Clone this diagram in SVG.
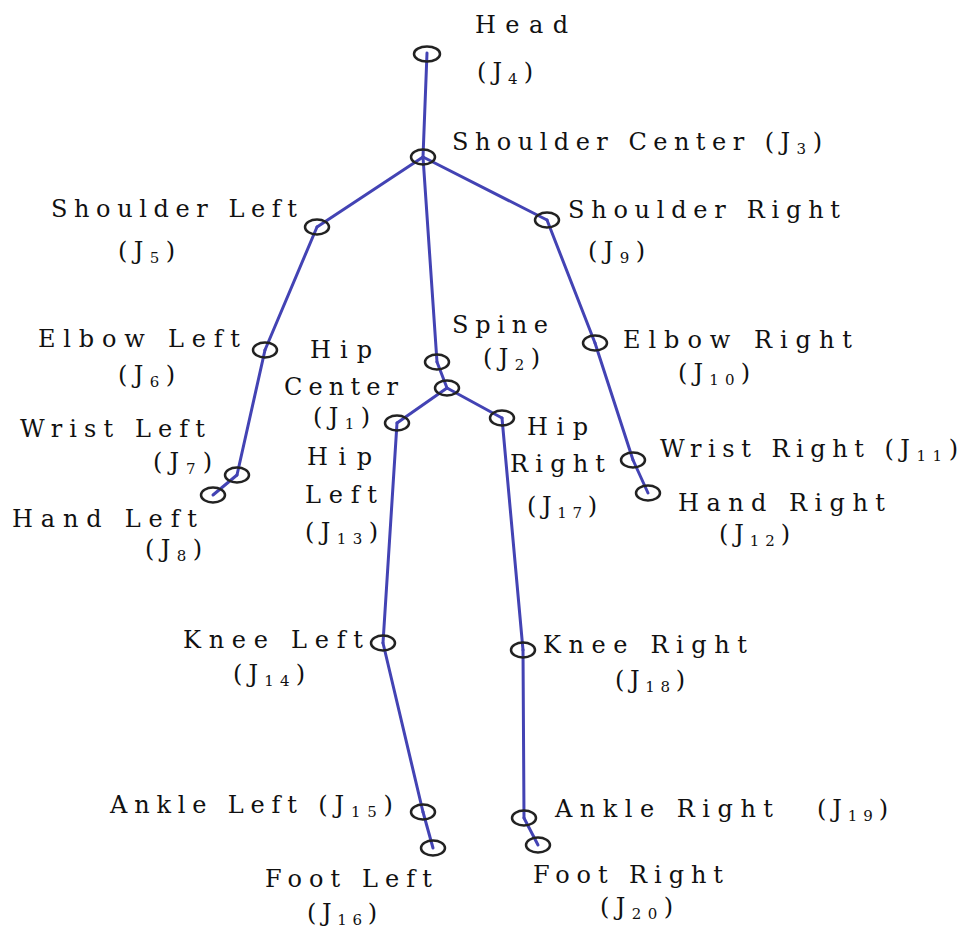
<svg xmlns="http://www.w3.org/2000/svg" width="966" height="930" viewBox="0 0 966 930">
<style>
.bone{stroke:#4343b4;stroke-width:3;stroke-linecap:round;fill:none}
.joint{fill:none;stroke:#222;stroke-width:2.5}
text{font-family:'DejaVu Serif','Liberation Serif',serif;font-size:24px;fill:#111}
.s{font-size:15px}
</style>
<rect width="966" height="930" fill="#ffffff"/>
<g id="connectors">
<line class="bone" x1="427" y1="53" x2="423" y2="157"/>
<line class="bone" x1="423" y1="157" x2="317" y2="227"/>
<line class="bone" x1="423" y1="157" x2="547" y2="220"/>
<line class="bone" x1="423" y1="157" x2="437" y2="362"/>
<line class="bone" x1="317" y1="227" x2="265" y2="350"/>
<line class="bone" x1="265" y1="350" x2="237" y2="475"/>
<line class="bone" x1="237" y1="475" x2="213" y2="495"/>
<line class="bone" x1="547" y1="220" x2="595" y2="343"/>
<line class="bone" x1="595" y1="343" x2="633" y2="460"/>
<line class="bone" x1="633" y1="460" x2="648" y2="493"/>
<line class="bone" x1="437" y1="362" x2="447" y2="388"/>
<line class="bone" x1="447" y1="388" x2="397" y2="423"/>
<line class="bone" x1="447" y1="388" x2="502" y2="418"/>
<line class="bone" x1="397" y1="423" x2="383" y2="643"/>
<line class="bone" x1="383" y1="643" x2="423" y2="812"/>
<line class="bone" x1="423" y1="812" x2="433" y2="848"/>
<line class="bone" x1="502" y1="418" x2="523" y2="650"/>
<line class="bone" x1="523" y1="650" x2="524" y2="818"/>
<line class="bone" x1="524" y1="818" x2="538" y2="845"/>
</g>
<g id="head"><ellipse class="joint" cx="427" cy="54" rx="13" ry="7.5"/>
<text x="475" y="33" textLength="93" lengthAdjust="spacing">Head</text>
<text x="477" y="80" textLength="56" lengthAdjust="spacing">(J<tspan class="s" dy="4">4</tspan><tspan dy="-4">)</tspan></text></g>
<g id="shoulder-center"><ellipse class="joint" cx="423" cy="157" rx="12" ry="7.5"/>
<text x="452" y="150" textLength="370" lengthAdjust="spacing">Shoulder Center (J<tspan class="s" dy="4">3</tspan><tspan dy="-4">)</tspan></text></g>
<g id="shoulder-left"><ellipse class="joint" cx="317" cy="227" rx="12" ry="7.5"/>
<text x="51" y="217" textLength="246" lengthAdjust="spacing">Shoulder Left</text>
<text x="118" y="259" textLength="57" lengthAdjust="spacing">(J<tspan class="s" dy="4">5</tspan><tspan dy="-4">)</tspan></text></g>
<g id="shoulder-right"><ellipse class="joint" cx="547" cy="220" rx="12" ry="7.5"/>
<text x="568" y="218" textLength="272" lengthAdjust="spacing">Shoulder Right</text>
<text x="588" y="259" textLength="57" lengthAdjust="spacing">(J<tspan class="s" dy="4">9</tspan><tspan dy="-4">)</tspan></text></g>
<g id="elbow-left"><ellipse class="joint" cx="265" cy="350" rx="12" ry="7.5"/>
<text x="38" y="347" textLength="202" lengthAdjust="spacing">Elbow Left</text>
<text x="118" y="383" textLength="57" lengthAdjust="spacing">(J<tspan class="s" dy="4">6</tspan><tspan dy="-4">)</tspan></text></g>
<g id="elbow-right"><ellipse class="joint" cx="595" cy="343" rx="12" ry="7.5"/>
<text x="623" y="348" textLength="229" lengthAdjust="spacing">Elbow Right</text>
<text x="678" y="381" textLength="72" lengthAdjust="spacing">(J<tspan class="s" dy="4">10</tspan><tspan dy="-4">)</tspan></text></g>
<g id="spine"><ellipse class="joint" cx="437" cy="362" rx="12" ry="7.5"/>
<text x="452" y="333" textLength="96" lengthAdjust="spacing">Spine</text>
<text x="483" y="366" textLength="57" lengthAdjust="spacing">(J<tspan class="s" dy="4">2</tspan><tspan dy="-4">)</tspan></text></g>
<g id="hip-center"><ellipse class="joint" cx="447" cy="388" rx="12" ry="7.5"/>
<text x="310" y="358" textLength="62" lengthAdjust="spacing">Hip</text>
<text x="284" y="395" textLength="114" lengthAdjust="spacing">Center</text>
<text x="313" y="425" textLength="57" lengthAdjust="spacing">(J<tspan class="s" dy="4">1</tspan><tspan dy="-4">)</tspan></text></g>
<g id="hip-left"><ellipse class="joint" cx="397" cy="423" rx="12" ry="7.5"/>
<text x="307" y="465" textLength="65" lengthAdjust="spacing">Hip</text>
<text x="305" y="503" textLength="72" lengthAdjust="spacing">Left</text>
<text x="305" y="540" textLength="73" lengthAdjust="spacing">(J<tspan class="s" dy="4">13</tspan><tspan dy="-4">)</tspan></text></g>
<g id="hip-right"><ellipse class="joint" cx="502" cy="418" rx="12" ry="7.5"/>
<text x="527" y="435" textLength="61" lengthAdjust="spacing">Hip</text>
<text x="510" y="472" textLength="95" lengthAdjust="spacing">Right</text>
<text x="527" y="514" textLength="70" lengthAdjust="spacing">(J<tspan class="s" dy="4">17</tspan><tspan dy="-4">)</tspan></text></g>
<g id="wrist-left"><ellipse class="joint" cx="237" cy="475" rx="12" ry="7.5"/>
<text x="20" y="437" textLength="185" lengthAdjust="spacing">Wrist Left</text>
<text x="153" y="470" textLength="59" lengthAdjust="spacing">(J<tspan class="s" dy="4">7</tspan><tspan dy="-4">)</tspan></text></g>
<g id="hand-left"><ellipse class="joint" cx="213" cy="495" rx="12" ry="7.5"/>
<text x="12" y="527" textLength="185" lengthAdjust="spacing">Hand Left</text>
<text x="145" y="557" textLength="57" lengthAdjust="spacing">(J<tspan class="s" dy="4">8</tspan><tspan dy="-4">)</tspan></text></g>
<g id="wrist-right"><ellipse class="joint" cx="633" cy="460" rx="12" ry="7.5"/>
<text x="660" y="457" textLength="298" lengthAdjust="spacing">Wrist Right  (J<tspan class="s" dy="4">11</tspan><tspan dy="-4">)</tspan></text></g>
<g id="hand-right"><ellipse class="joint" cx="648" cy="493" rx="12" ry="7.5"/>
<text x="678" y="511" textLength="207" lengthAdjust="spacing">Hand Right</text>
<text x="719" y="542" textLength="71" lengthAdjust="spacing">(J<tspan class="s" dy="4">12</tspan><tspan dy="-4">)</tspan></text></g>
<g id="knee-left"><ellipse class="joint" cx="383" cy="643" rx="12" ry="7.5"/>
<text x="183" y="648" textLength="180" lengthAdjust="spacing">Knee Left</text>
<text x="233" y="682" textLength="72" lengthAdjust="spacing">(J<tspan class="s" dy="4">14</tspan><tspan dy="-4">)</tspan></text></g>
<g id="knee-right"><ellipse class="joint" cx="523" cy="650" rx="12" ry="7.5"/>
<text x="543" y="653" textLength="204" lengthAdjust="spacing">Knee Right</text>
<text x="615" y="688" textLength="70" lengthAdjust="spacing">(J<tspan class="s" dy="4">18</tspan><tspan dy="-4">)</tspan></text></g>
<g id="ankle-left"><ellipse class="joint" cx="423" cy="812" rx="12" ry="7.5"/>
<text x="110" y="813" textLength="283" lengthAdjust="spacing">Ankle Left  (J<tspan class="s" dy="4">15</tspan><tspan dy="-4">)</tspan></text></g>
<g id="foot-left"><ellipse class="joint" cx="433" cy="848" rx="12" ry="7.5"/>
<text x="265" y="887" textLength="167" lengthAdjust="spacing">Foot Left</text>
<text x="307" y="921" textLength="70" lengthAdjust="spacing">(J<tspan class="s" dy="4">16</tspan><tspan dy="-4">)</tspan></text></g>
<g id="ankle-right"><ellipse class="joint" cx="524" cy="818" rx="12" ry="7.5"/>
<text x="555" y="817" textLength="218" lengthAdjust="spacing">Ankle Right</text>
<text x="817" y="817" textLength="71" lengthAdjust="spacing">(J<tspan class="s" dy="4">19</tspan><tspan dy="-4">)</tspan></text></g>
<g id="foot-right"><ellipse class="joint" cx="538" cy="845" rx="12" ry="7.5"/>
<text x="533" y="883" textLength="190" lengthAdjust="spacing">Foot Right</text>
<text x="600" y="915" textLength="73" lengthAdjust="spacing">(J<tspan class="s" dy="4">20</tspan><tspan dy="-4">)</tspan></text></g>
</svg>
